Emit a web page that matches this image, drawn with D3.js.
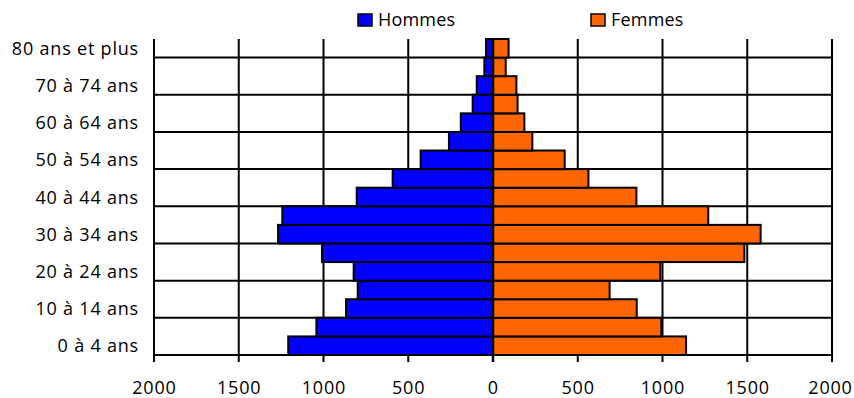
<!DOCTYPE html>
<html>
<head>
<meta charset="utf-8">
<script src="https://d3js.org/d3.v7.min.js"></script>
<style>
  html, body { margin: 0; padding: 0; background: #fff; }
  text { font-family: "Open Sans", sans-serif; fill: #000; }
</style>
</head>
<body>
<svg id="chart" width="854" height="398"></svg>
<script>
const categories = ["0 à 4 ans","5 à 9 ans","10 à 14 ans","15 à 19 ans","20 à 24 ans","25 à 29 ans","30 à 34 ans","35 à 39 ans","40 à 44 ans","45 à 49 ans","50 à 54 ans","55 à 59 ans","60 à 64 ans","65 à 69 ans","70 à 74 ans","75 à 79 ans","80 ans et plus"];
const hommes = [1208, 1042, 867, 798, 822, 1009, 1268, 1243, 804, 592, 427, 260, 190, 120, 96, 51, 41];
const femmes = [1139, 993, 848, 688, 987, 1483, 1579, 1270, 846, 563, 423, 232, 185, 145, 138, 75, 92];
const xTicks = [-2000, -1500, -1000, -500, 0, 500, 1000, 1500, 2000];
const seriesNames = ["Hommes", "Femmes"];
const colors = ["#0000FF", "#FF6600"];

(function () {
const svg = d3.select("#chart");
const pLeft = 154, pRight = 832, pTop = 39, pBottom = 355;

const x = d3.scaleLinear().domain([-2000, 2000]).range([pLeft, pRight]);
const y = d3.scaleBand().domain(categories.slice().reverse()).range([pTop, pBottom]).padding(0);

// vertical gridlines (with tick marks below axis)
svg.append("g").selectAll("line").data(xTicks).join("line")
  .attr("x1", d => x(d)).attr("x2", d => x(d))
  .attr("y1", pTop).attr("y2", pBottom + 7)
  .attr("stroke", "#000").attr("stroke-width", 2);

// horizontal gridlines at every second category boundary
const hLines = categories.filter((c, i) => i % 2 === 1).map(c => y(c));
hLines.push(pBottom);
svg.append("g").selectAll("line").data(hLines).join("line")
  .attr("x1", pLeft).attr("x2", pRight)
  .attr("y1", d => d).attr("y2", d => d)
  .attr("stroke", "#000").attr("stroke-width", 2);

// bars
const bars = svg.append("g");
bars.selectAll("rect.h").data(categories).join("rect").attr("class", "h")
  .attr("x", (c, i) => x(-hommes[i]))
  .attr("width", (c, i) => x(0) - x(-hommes[i]))
  .attr("y", c => y(c)).attr("height", y.bandwidth())
  .attr("fill", colors[0]).attr("stroke", "#000").attr("stroke-width", 2);
bars.selectAll("rect.f").data(categories).join("rect").attr("class", "f")
  .attr("x", x(0))
  .attr("width", (c, i) => x(femmes[i]) - x(0))
  .attr("y", c => y(c)).attr("height", y.bandwidth())
  .attr("fill", colors[1]).attr("stroke", "#000").attr("stroke-width", 2);

// zero line
svg.append("line").attr("x1", x(0)).attr("x2", x(0)).attr("y1", pTop).attr("y2", pBottom + 7)
  .attr("stroke", "#000").attr("stroke-width", 2.5);

// x tick labels
svg.append("g").selectAll("text").data(xTicks).join("text")
  .attr("x", (d, i) => x(d) + (i === xTicks.length - 1 ? -1.5 : 0.4)).attr("y", 394)
  .attr("text-anchor", "middle").attr("font-size", 18).attr("letter-spacing", 0.8)
  .text(d => Math.abs(d));

// y labels (every other category)
svg.append("g").selectAll("text").data(categories.filter((c, i) => i % 2 === 0)).join("text")
  .attr("x", 139).attr("y", c => y(c) + y.bandwidth() / 2 + 6.5)
  .attr("text-anchor", "end").attr("font-size", 18).attr("letter-spacing", 0.8)
  .text(c => c);

// legend
const legendX = [358, 591];
const lg = svg.append("g").selectAll("g").data(seriesNames).join("g")
  .attr("transform", (d, i) => `translate(${legendX[i]},14)`);
lg.append("rect").attr("width", 14).attr("height", 12)
  .attr("fill", (d, i) => colors[i]).attr("stroke", "#000").attr("stroke-width", 1.5);
lg.append("text").attr("x", 20).attr("y", 12).attr("font-size", 18).attr("letter-spacing", 0.2)
  .text(d => d);
})();
</script>
</body>
</html>
